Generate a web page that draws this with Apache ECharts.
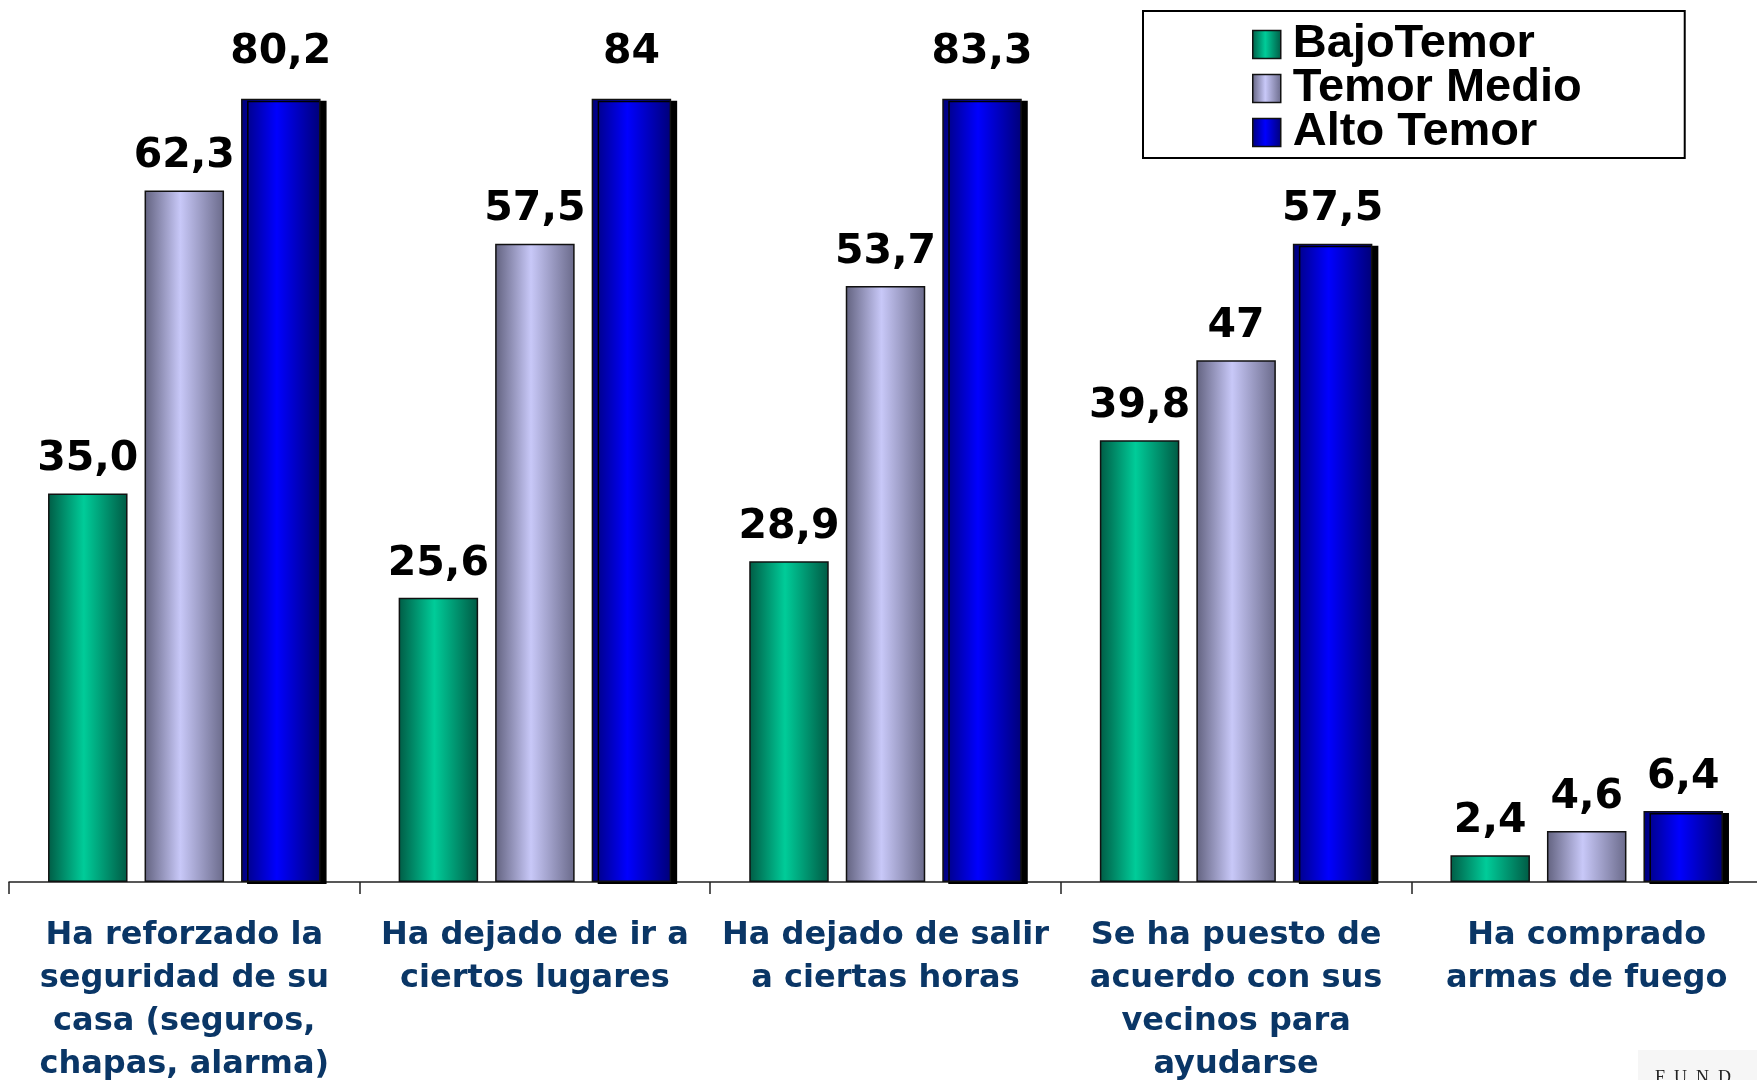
<!DOCTYPE html>
<html>
<head>
<meta charset="utf-8">
<script src="https://cdn.jsdelivr.net/npm/echarts@6/dist/echarts.min.js"></script>
<style>
  html, body { margin: 0; padding: 0; background: #fff; }
  #chart { width: 1757px; height: 1080px; }
</style>
</head>
<body>
<div id="chart"></div>
<script>
// categories (line breaks as in the picture)
var categories = [
    'Ha reforzado la\nseguridad de su\ncasa (seguros,\nchapas, alarma)',
    'Ha dejado de ir a\nciertos lugares',
    'Ha dejado de salir\na ciertas horas',
    'Se ha puesto de\nacuerdo con sus\nvecinos para\nayudarse',
    'Ha comprado\narmas de fuego'
];
var seriesNames = ['BajoTemor', 'Temor Medio', 'Alto Temor'];
var bajoValues  = [35.0, 25.6, 28.9, 39.8, 2.4];
var medioValues = [62.3, 57.5, 53.7, 47, 4.6];
var altoValues  = [80.2, 84, 83.3, 57.5, 6.4];
var bajoLabels  = ['35,0', '25,6', '28,9', '39,8', '2,4'];
var medioLabels = ['62,3', '57,5', '53,7', '47', '4,6'];
var altoLabels  = ['80,2', '84', '83,3', '57,5', '6,4'];

var yMax = 70.5;

var chart = echarts.init(document.getElementById('chart'));

function grad(edge1, mid, edge2) {
    return new echarts.graphic.LinearGradient(0, 0, 1, 0, [
        { offset: 0, color: edge1 },
        { offset: 0.45, color: mid },
        { offset: 1, color: edge2 }
    ]);
}

function buildData(values, labels) {
    return values.map(function (v, i) {
        return {
            value: v,
            label: {
                formatter: labels[i],
                // bars cut by the top of the plot get their label a bit higher
                distance: v > yMax ? 26 : 14
            }
        };
    });
}

var labelStyle = {
    show: true,
    position: 'top',
    color: '#000',
    fontFamily: 'DejaVu Sans',
    fontWeight: 'bold',
    fontSize: 41,
    lineHeight: 40
};

function makeSeries(name, values, labels, color, extra) {
    return {
        name: name,
        type: 'bar',
        barWidth: 79.5,
        barGap: '21.4%',
        clip: true,
        itemStyle: Object.assign({
            color: color,
            borderColor: '#111',
            borderWidth: 1.5
        }, extra || {}),
        label: labelStyle,
        emphasis: { disabled: true },
        data: buildData(values, labels)
    };
}

var option = {
    animation: false,
    backgroundColor: '#fff',
    legend: {
        orient: 'vertical',
        left: 1143,
        top: 11,
        padding: [10, 103, 2, 109],
        borderColor: '#000',
        borderWidth: 2,
        itemWidth: 28,
        itemHeight: 28,
        itemGap: -3,
        icon: 'rect',
        data: seriesNames,
        itemStyle: { borderColor: '#111', borderWidth: 1.5, shadowColor: 'transparent' },
        textStyle: {
            color: '#000',
            fontFamily: 'Liberation Sans',
            fontWeight: 'bold',
            fontSize: 47,
            lineHeight: 43.6,
            padding: [0, 0, 0, 7]
        }
    },
    grid: {
        left: 9,
        right: -5,
        top: 99.5,
        height: 782.5,
        containLabel: false,
        outerBoundsMode: 'none'
    },
    xAxis: {
        type: 'category',
        data: categories,
        boundaryGap: true,
        axisLine: { lineStyle: { color: '#222', width: 1.5 } },
        axisTick: { show: true, length: 12, lineStyle: { color: '#222', width: 1.5 } },
        axisLabel: {
            interval: 0,
            margin: 32,
            color: '#0a3666',
            fontFamily: 'DejaVu Sans',
            fontWeight: 'bold',
            fontSize: 32,
            lineHeight: 43,
            align: 'center'
        }
    },
    yAxis: {
        type: 'value',
        min: 0,
        max: yMax,
        show: false,
        splitLine: { show: false }
    },
    series: [
        makeSeries(seriesNames[0], bajoValues, bajoLabels, grad('#005c45', '#00cc99', '#005a44')),
        makeSeries(seriesNames[1], medioValues, medioLabels, grad('#62627f', '#c8c8f8', '#6a6a8a')),
        makeSeries(seriesNames[2], altoValues, altoLabels, grad('#000078', '#0000ff', '#000078'), {
            shadowColor: '#000',
            shadowBlur: 0,
            shadowOffsetX: 6,
            shadowOffsetY: 2
        })
    ],
    graphic: [{
        type: 'rect',
        left: 1638,
        top: 1050,
        shape: { width: 119, height: 30 },
        style: { fill: '#f6f6f6' },
        silent: true
    }, {
        type: 'text',
        left: 1655,
        top: 1069,
        style: {
            text: 'F  U  N  D',
            fill: '#222',
            font: '18px "Liberation Serif"'
        }
    }]
};

chart.setOption(option);
</script>
</body>
</html>
